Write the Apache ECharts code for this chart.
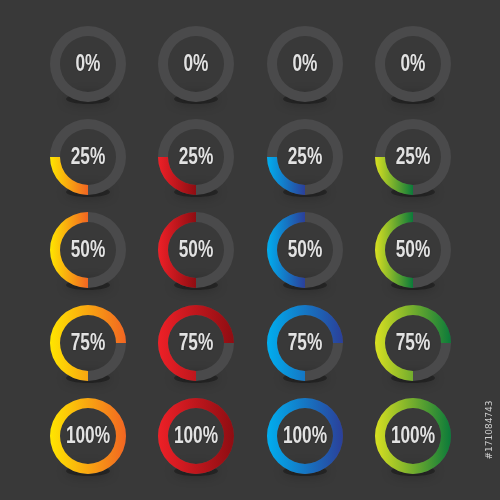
<!DOCTYPE html>
<html>
<head>
<meta charset="utf-8">
<script src="https://cdn.jsdelivr.net/npm/echarts@6/dist/echarts.min.js"></script>
<style>
  html, body { margin: 0; padding: 0; background: #393939; }
  #chart { width: 500px; height: 500px; }
</style>
</head>
<body>
<div id="chart"></div>
<script>
// progress per row, colour theme per column
var percents = [0, 25, 50, 75, 100];
var themes = ['orange', 'red', 'blue', 'green'];
var gradientStart = ['#ffe600', '#ee2027', '#00aeef', '#d9e021'];
var gradientEnd = ['#f26522', '#8e0d12', '#2b3f99', '#0b7a3a'];
var stockId = '#171084743';

// layout
var colX = [88, 196, 305, 413];
var rowY = [64, 157, 250, 343, 436];
var outerR = 38;
var ringWidth = 10;
var trackColor = '#4a4a4b';

var chart = echarts.init(document.getElementById('chart'));

var series = [];
var graphics = [];

rowY.forEach(function (cy, r) {
  colX.forEach(function (cx, c) {
    // soft floor shadow under each ring
    graphics.push({
      type: 'ellipse',
      z: -1,
      shape: { cx: cx, cy: cy + outerR - 3, rx: 22, ry: 5 },
      style: {
        fill: 'rgba(15,15,15,0.45)',
        shadowBlur: 12,
        shadowColor: 'rgba(0,0,0,0.6)'
      }
    });
    // narrow percentage label in the middle
    graphics.push({
      type: 'text',
      z: 10,
      x: cx,
      y: cy,
      scaleX: 0.72,
      style: {
        text: percents[r] + '%',
        fill: '#e2e2e2',
        font: 'bold 24px "Liberation Sans", Arial, sans-serif',
        align: 'center',
        verticalAlign: 'middle',
        textShadowColor: 'rgba(0,0,0,0.4)',
        textShadowBlur: 2
      }
    });
    series.push({
      type: 'gauge',
      name: themes[c] + ' ' + percents[r],
      center: [cx, cy],
      radius: outerR,
      startAngle: 270,
      endAngle: -90,
      clockwise: true,
      min: 0,
      max: 100,
      pointer: { show: false },
      anchor: { show: false },
      axisTick: { show: false },
      splitLine: { show: false },
      axisLabel: { show: false },
      title: { show: false },
      detail: { show: false },
      axisLine: {
        lineStyle: { width: ringWidth, color: [[1, trackColor]] }
      },
      progress: {
        show: percents[r] > 0,
        width: ringWidth,
        itemStyle: {
          color: new echarts.graphic.LinearGradient(0, 0, 1, 0, [
            { offset: 0, color: gradientStart[c] },
            { offset: 1, color: gradientEnd[c] }
          ])
        }
      },
      data: [{ value: percents[r] }]
    });
  });
});

graphics.push({
  type: 'text',
  x: 490,
  y: 430,
  rotation: Math.PI / 2,
  style: {
    text: stockId,
    fill: '#cfcfcf',
    font: '9px "DejaVu Sans"',
    align: 'center',
    verticalAlign: 'middle'
  }
});

chart.setOption({
  backgroundColor: '#393939',
  animation: false,
  graphic: graphics,
  series: series
});
</script>
</body>
</html>
